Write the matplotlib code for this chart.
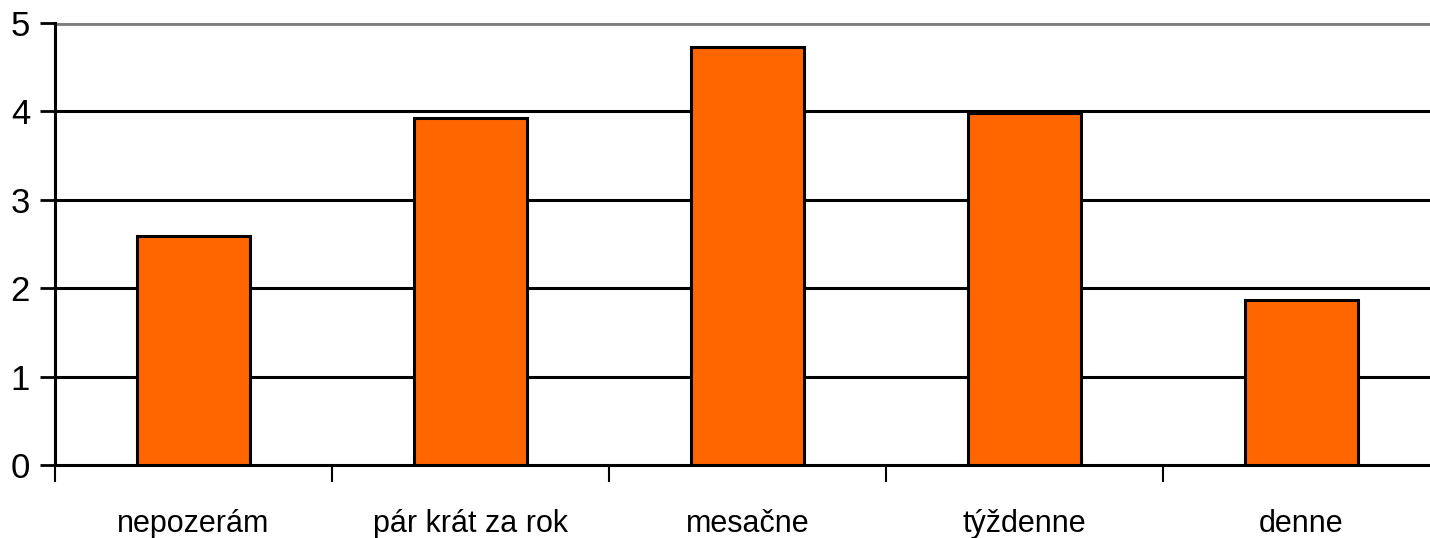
import matplotlib
matplotlib.use("Agg")
import matplotlib.pyplot as plt

categories = ["nepozerám", "pár krát za rok", "mesačne", "týždenne", "denne"]
values = [2.59, 3.93, 4.73, 3.98, 1.87]
yticks = [0, 1, 2, 3, 4, 5]

plt.rcParams["font.family"] = ["Liberation Sans", "DejaVu Sans"]

fig = plt.figure(figsize=(14.3, 5.38), dpi=100)
W, H = 1430, 538
# axes extends a little past the right edge, like the original
ax = fig.add_axes([55 / W, 1 - 465 / H, 1385 / W, (465 - 23) / H])

x = list(range(len(categories)))
ax.bar(x, values, width=0.405, color="#FF6600", edgecolor="black", linewidth=2.2, zorder=3)

ax.set_xlim(-0.5, len(categories) - 0.5)
ax.set_ylim(0, 5)

for v in yticks[1:-1]:
    ax.axhline(v, color="black", linewidth=2.2, zorder=1)
ax.axhline(5, color="#808080", linewidth=3.5, zorder=1)

ax.set_yticks(yticks)
ax.set_yticklabels([str(v) for v in yticks], fontsize=25)
ax.tick_params(axis="y", length=11, width=2, direction="out", pad=7)

# category boundaries as x ticks, labels at centers
ax.set_xticks([i - 0.5 for i in range(len(categories) + 1)])
ax.set_xticklabels([])
ax.set_xticks(x, minor=True)
ax.set_xticklabels(categories, minor=True, fontsize=22)
ax.tick_params(axis="x", which="major", length=12, width=1.5, direction="out")
ax.tick_params(axis="x", which="minor", length=0, pad=32)

for s in ["top", "right"]:
    ax.spines[s].set_visible(False)
ax.spines["left"].set_linewidth(2.2)
ax.spines["bottom"].set_linewidth(2.2)

fig.savefig("out.png", dpi=100)
